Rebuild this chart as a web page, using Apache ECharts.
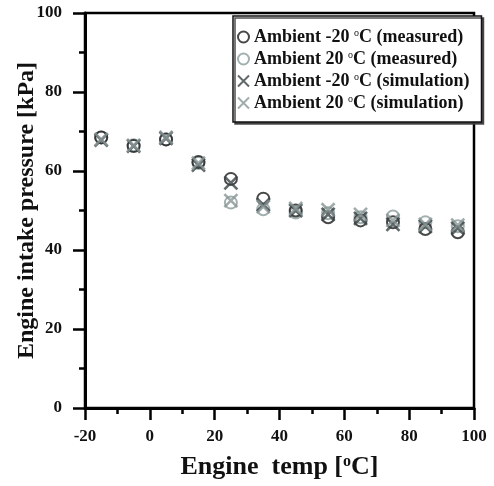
<!DOCTYPE html>
<html><head><meta charset="utf-8">
<script src="https://cdn.jsdelivr.net/npm/echarts@6/dist/echarts.min.js"></script>
<style>html,body{margin:0;padding:0;background:#fff}#c{width:494px;height:486px}</style>
</head><body><div id="c"></div>
<script>
var temps = [-15, -5, 5, 15, 25, 35, 45, 55, 65, 75, 85, 95];
var measuredCold = [68.5, 66.3, 68.0, 62.3, 58.0, 53.0, 50.0, 48.3, 47.5, 47.0, 45.3, 44.5];
var measuredWarm = [68.5, 66.5, 68.0, 62.0, 52.0, 50.3, 49.5, 49.3, 48.3, 48.5, 47.0, 46.0];
var simCold = [67.8, 66.3, 68.3, 61.5, 57.0, 51.5, 50.0, 49.0, 48.0, 46.5, 46.0, 45.5];
var simWarm = [68.0, 66.5, 68.5, 62.0, 52.5, 51.0, 50.5, 50.2, 49.0, 47.5, 46.5, 46.3];
var seriesNames = ['Ambient -20 oC (measured)', 'Ambient 20 oC (measured)', 'Ambient -20 oC (simulation)', 'Ambient 20 oC (simulation)'];
var xTicks = [-20, 0, 20, 40, 60, 80, 100];
var yTicks = [0, 20, 40, 60, 80, 100];

function pairs(v){ return temps.map(function(t,i){ return [t, v[i]]; }); }
var FONT = '"Liberation Serif", "Times New Roman", serif';
var cross = 'path://M0,0L10,10M10,0L0,10';
var chart = echarts.init(document.getElementById('c'));
function circleSeries(name, data, col, z){
  return {name:name, type:'scatter', data:pairs(data), symbol:'circle', symbolSize:12, z:z,
    itemStyle:{color:'rgba(255,255,255,0)', borderColor:col, borderWidth:2}};
}
function crossSeries(name, data, col, z){
  return {name:name, type:'scatter', data:pairs(data), symbol:cross, symbolSize:13, z:z,
    itemStyle:{color:'rgba(255,255,255,0)', borderColor:col, borderWidth:2.6}};
}
chart.setOption({
  animation:false,
  textStyle:{fontFamily:FONT},
  grid:{left:85, right:20, top:13, bottom:78, containLabel:false, outerBoundsMode:'none',
    show:true, borderColor:'#000', borderWidth:2.5, backgroundColor:'transparent'},
  legend:{
    orient:'vertical', left:233, top:16, padding:[12,12,10,4], itemGap:4,
    itemWidth:11, itemHeight:11, z:10,
    borderColor:'#111', borderWidth:1.5, backgroundColor:'#fff',
    shadowColor:'rgba(60,60,60,0.9)', shadowOffsetX:2, shadowOffsetY:2, shadowBlur:0,
    data:seriesNames,
    formatter:function(n){ return n.replace(' oC', ' {sup|o}C'); },
    textStyle:{fontFamily:FONT, fontWeight:'bold', fontSize:18, color:'#111',
      rich:{sup:{fontFamily:FONT, fontSize:10, fontWeight:'normal', color:'#111', padding:[0,0,8,0]}}}
  },
  xAxis:{
    type:'value', min:-20, max:100, interval:20,
    name:'Engine  temp [{sup|o}C]', nameLocation:'middle', nameGap:46, nameMoveOverlap:false,
    nameTextStyle:{fontFamily:FONT, fontWeight:'bold', fontSize:26, color:'#111',
      rich:{sup:{fontFamily:FONT, fontWeight:'bold', fontSize:16, color:'#111', padding:[0,0,10,0]}}},
    axisLine:{show:true, onZero:false, lineStyle:{color:'#000', width:3}},
    axisTick:{show:true, inside:false, length:12, lineStyle:{color:'#000', width:2.5}},
    minorTick:{show:true, splitNumber:2, length:6, lineStyle:{color:'#000', width:2.5}},
    splitLine:{show:false},
    axisLabel:{fontFamily:FONT, fontWeight:'bold', fontSize:17, color:'#111', margin:20,
      formatter:function(v){ return xTicks.indexOf(v) >= 0 ? String(v) : ''; }}
  },
  yAxis:{
    type:'value', min:0, max:100, interval:20,
    name:'Engine intake pressure [kPa]', nameLocation:'middle', nameGap:46, nameMoveOverlap:false,
    nameTextStyle:{fontFamily:FONT, fontWeight:'bold', fontSize:24, color:'#111'},
    axisLine:{show:true, onZero:false, lineStyle:{color:'#000', width:3}},
    axisTick:{show:true, inside:false, length:12, lineStyle:{color:'#000', width:2.5}},
    minorTick:{show:true, splitNumber:2, length:6, lineStyle:{color:'#000', width:2.5}},
    splitLine:{show:false},
    axisLabel:{fontFamily:FONT, fontWeight:'bold', fontSize:17, color:'#111', margin:23,
      formatter:function(v){ return yTicks.indexOf(v) >= 0 ? String(v) : ''; }}
  },
  series:[
    circleSeries(seriesNames[0], measuredCold, '#1a1a1a', 3),
    circleSeries(seriesNames[1], measuredWarm, '#8c9c9c', 2),
    crossSeries(seriesNames[2], simCold, '#3a4446', 4),
    crossSeries(seriesNames[3], simWarm, '#8a9696', 5)
  ]
});
</script></body></html>
